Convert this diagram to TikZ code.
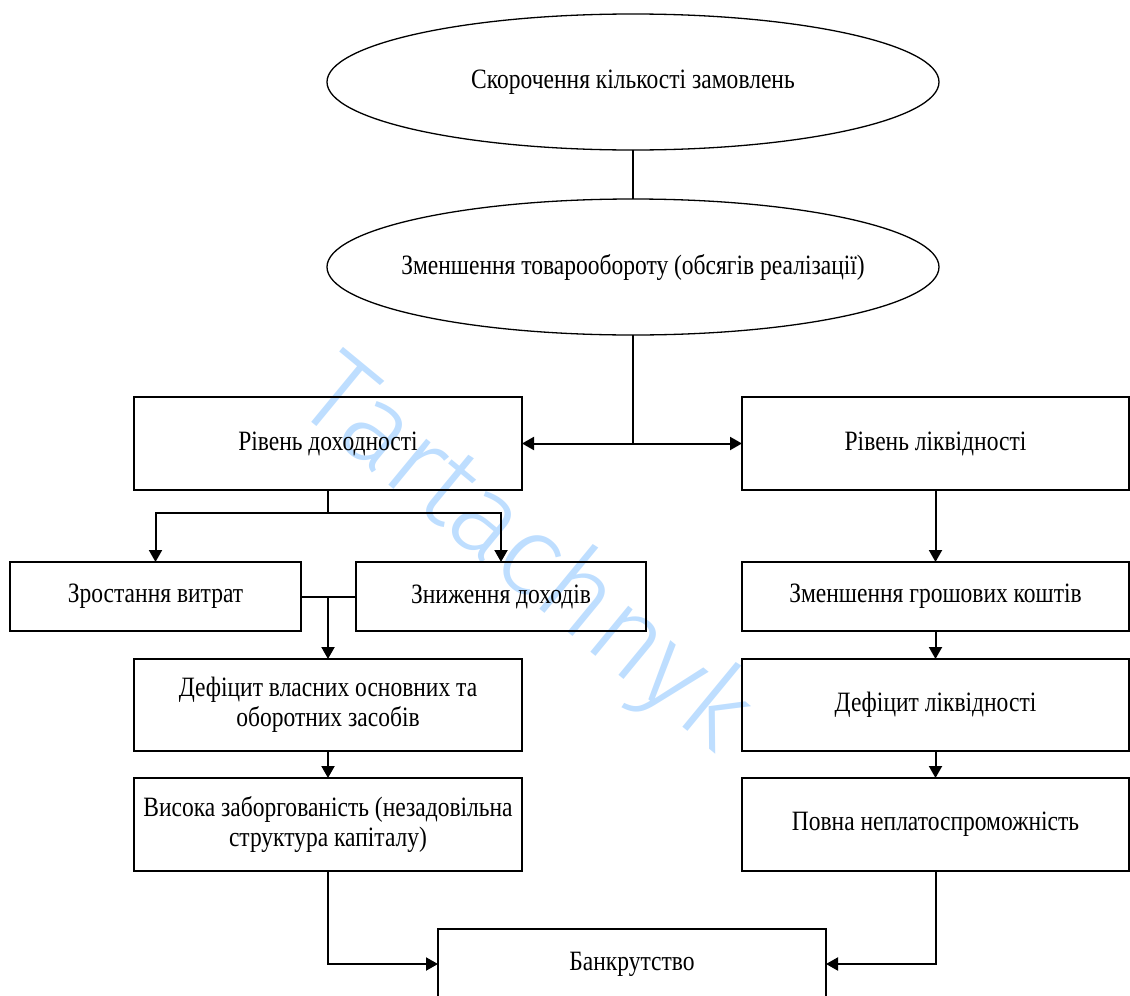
\documentclass[tikz,border=0pt]{standalone}
\usepackage{fontspec}
\setmainfont{Liberation Serif}[FakeStretch=0.84]
\newfontfamily\wmfont{Fira Sans Light}
\usetikzlibrary{shapes.geometric,arrows.meta}
\definecolor{wmblue}{RGB}{190,222,255}
\begin{document}
\begin{tikzpicture}[x=1pt,y=-1pt,
  txt/.style={font=\fontsize{28}{30}\selectfont},
  box/.style={txt, draw=black, line width=1.3pt, rectangle, inner sep=0pt, outer sep=0pt, align=center},
  wide/.style={box, minimum width=388pt},
  oval/.style={txt, draw=black, ellipse, line width=1.3pt, inner sep=0pt, outer sep=0pt, minimum width=612pt, minimum height=136pt},
  conn/.style={line width=2pt},
  arr/.style={conn, -{Triangle[length=12pt,width=13pt]}},
  watermark/.style={text=wmblue, font=\wmfont\fontsize{114}{114}\selectfont}]
\useasboundingbox (0,0) rectangle (1130,996);
\clip (0,0) rectangle (1130,996);
% watermark
\node[watermark, rotate=-39.5] (wm) at (524,557) {Tartachnyk};
% nodes
\node[oval] (e1) at (633,82) {\makebox[0pt]{\raisebox{-2pt}{Скорочення кількості замовлень}}};
\node[oval] (e2) at (633,267) {\makebox[0pt]{\raisebox{-3pt}{Зменшення товарообороту (обсягів реалізації)}}};
\node[wide, minimum height=93pt] (b1) at (328,443.5) {Рівень доходності};
\node[box, minimum width=387pt, minimum height=93pt] (b2) at (935.5,443.5) {Рівень ліквідності};
\node[box, minimum width=291pt, minimum height=69pt] (b3) at (155.5,596.5) {Зростання витрат};
\node[box, minimum width=290pt, minimum height=69pt] (b4) at (501,596.5) {Зниження доходів};
\node[wide, minimum height=92pt] (b5) at (328,705) {Дефіцит власних основних та\\оборотних засобів};
\node[wide, minimum height=93pt] (b6) at (328,824.5) {Висока заборгованість (незадовільна\\структура капіталу)};
\node[box, minimum width=387pt, minimum height=69pt] (b7) at (935.5,596.5) {Зменшення грошових коштів};
\node[box, minimum width=387pt, minimum height=92pt] (b8) at (935.5,705) {Дефіцит ліквідності};
\node[box, minimum width=387pt, minimum height=93pt] (b9) at (935.5,824.5) {Повна неплатоспроможність};
\node[wide, minimum height=70pt] (b10) at (632,964) {Банкрутство};
% connectors
\draw[conn] (e1.south) -- (e2.north);
\draw[arr] (e2.south) |- (b1.east);
\draw[arr] (e2.south) |- (b2.west);
\coordinate (s1) at (328,513);
\draw[arr] (b1.south) -- (s1) -| (b3.north);
\draw[arr] (s1) -| (b4.north);
\draw[conn] (b3.east) -- (b4.west);
\coordinate (s2) at (328,596.5);
\draw[arr] (s2) -- (b5.north);
\draw[arr] (b5.south) -- (b6.north);
\draw[arr] (b6.south) |- (b10.west);
\draw[arr] (b2.south) -- (b7.north);
\draw[arr] (b7.south) -- (b8.north);
\draw[arr] (b8.south) -- (b9.north);
\draw[arr] (b9.south) |- (b10.east);
\end{tikzpicture}
\end{document}
